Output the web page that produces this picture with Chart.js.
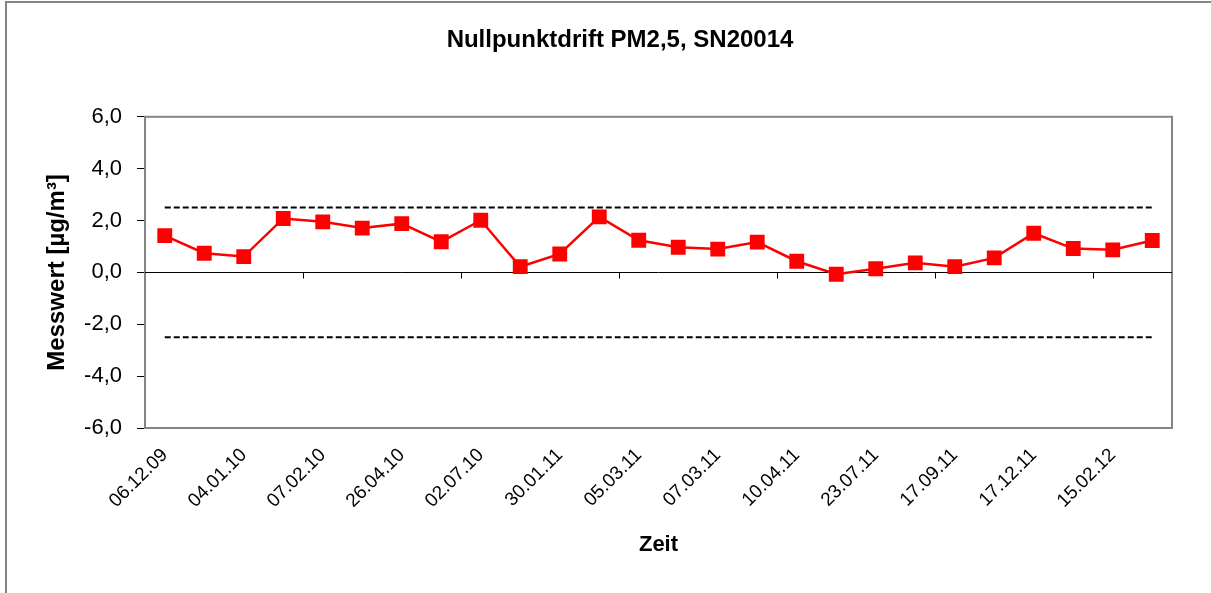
<!DOCTYPE html>
<html>
<head>
<meta charset="utf-8">
<script src="https://cdn.jsdelivr.net/npm/chart.js@4/dist/chart.umd.min.js"></script>
<style>
  html, body { margin: 0; padding: 0; background: #fff; }
  #frame { position: absolute; left: 5px; top: 1px; width: 1300px; height: 700px;
           border-left: 2px solid #858585; border-top: 2px solid #858585; }
  #wrap { position: absolute; left: 0; top: 0; width: 1211px; height: 593px; }
</style>
</head>
<body>
<div id="frame"></div>
<div id="wrap"><canvas id="chart" width="1211" height="593"></canvas></div>
<script>
// Measurement dates (only every other date is labelled in the original)
const dates = [
  '06.12.09', '', '04.01.10', '', '07.02.10', '', '26.04.10', '', '02.07.10', '',
  '30.01.11', '', '05.03.11', '', '07.03.11', '', '10.04.11', '', '23.07.11', '',
  '17.09.11', '', '17.12.11', '', '15.02.12', ''
];
// Zero drift values in µg/m³
const drift = [
  1.42, 0.74, 0.61, 2.08, 1.95, 1.71, 1.88, 1.18, 2.01, 0.22,
  0.71, 2.14, 1.24, 0.97, 0.90, 1.17, 0.43, -0.07, 0.14, 0.37,
  0.22, 0.56, 1.51, 0.92, 0.87, 1.23
];
const upperLimit = 2.5;
const lowerLimit = -2.5;
const yTicks = [-6, -4, -2, 0, 2, 4, 6];

const FONT = '"Liberation Sans", Arial, sans-serif';

// plot frame, zero line and its tick marks (Excel style)
const framePlugin = {
  id: 'frame',
  beforeDatasetsDraw(chart) {
    const { ctx, chartArea: a, scales } = chart;
    ctx.save();
    ctx.strokeStyle = '#858585';
    ctx.lineWidth = 2;
    ctx.strokeRect(a.left, a.top, a.right - a.left, a.bottom - a.top);

    const y0 = Math.round(scales.y.getPixelForValue(0)) + 0.5;
    ctx.strokeStyle = '#000';
    ctx.lineWidth = 1;
    ctx.beginPath();
    ctx.moveTo(a.left, y0);
    ctx.lineTo(a.right, y0);
    const x = scales.x;
    const step = (x.getPixelForValue(1) - x.getPixelForValue(0));
    for (let i = 4; i < dates.length; i += 4) {
      const px = Math.round(x.getPixelForValue(i) - step / 2) + 0.5;
      ctx.moveTo(px, y0);
      ctx.lineTo(px, y0 + 6);
    }
    ctx.stroke();
    ctx.restore();
  }
};

new Chart(document.getElementById('chart'), {
  type: 'line',
  data: {
    labels: dates,
    datasets: [
      {
        data: drift,
        borderColor: '#ff0000',
        backgroundColor: '#ff0000',
        borderWidth: 2.5,
        pointStyle: 'rect',
        pointRadius: 10.5,
        pointBorderWidth: 0,
        tension: 0
      },
      {
        data: dates.map(() => upperLimit),
        borderColor: '#000',
        borderWidth: 2,
        borderDash: [6, 3],
        pointRadius: 0
      },
      {
        data: dates.map(() => lowerLimit),
        borderColor: '#000',
        borderWidth: 2,
        borderDash: [6, 3],
        pointRadius: 0
      }
    ]
  },
  options: {
    responsive: false,
    animation: false,
    layout: { padding: { left: 29, right: 0, top: 0, bottom: 0 } },
    plugins: {
      legend: { display: false },
      tooltip: { enabled: false },
      title: {
        display: true,
        text: 'Nullpunktdrift PM2,5, SN20014',
        color: '#000',
        font: { family: FONT, size: 24, weight: 'bold' },
        padding: { top: 26, bottom: 62 }
      }
    },
    scales: {
      x: {
        offset: true,
        grid: { display: false },
        border: { display: false },
        ticks: {
          autoSkip: false,
          maxRotation: 45,
          minRotation: 45,
          padding: 8,
          color: '#000',
          font: { family: FONT, size: 19 }
        },
        title: {
          display: true,
          text: 'Zeit',
          color: '#000',
          font: { family: FONT, size: 22, weight: 'bold' },
          padding: { top: 0, bottom: 35 }
        },
        afterFit(s) { s.height = 165; }
      },
      y: {
        min: yTicks[0],
        max: yTicks[yTicks.length - 1],
        afterBuildTicks(s) { s.ticks = yTicks.map(v => ({ value: v })); },
        grid: { drawOnChartArea: false, drawTicks: true, tickLength: 8, color: '#000' },
        border: { display: true, color: '#858585', width: 2 },
        ticks: {
          padding: 15,
          color: '#000',
          font: { family: FONT, size: 22 },
          callback: v => v.toFixed(1).replace('.', ',')
        },
        title: {
          display: true,
          text: 'Messwert [µg/m³]',
          color: '#000',
          font: { family: FONT, size: 24, weight: 'bold' },
          padding: { top: 14, bottom: 0 }
        },
        afterFit(s) { s.width = 116; }
      },
      // empty right-hand axis keeping the plot clear of the right edge
      yRight: {
        position: 'right',
        display: true,
        grid: { display: false },
        border: { display: false },
        ticks: { display: false },
        afterFit(s) { s.width = 39; }
      }
    }
  },
  plugins: [framePlugin]
});
</script>
</body>
</html>
